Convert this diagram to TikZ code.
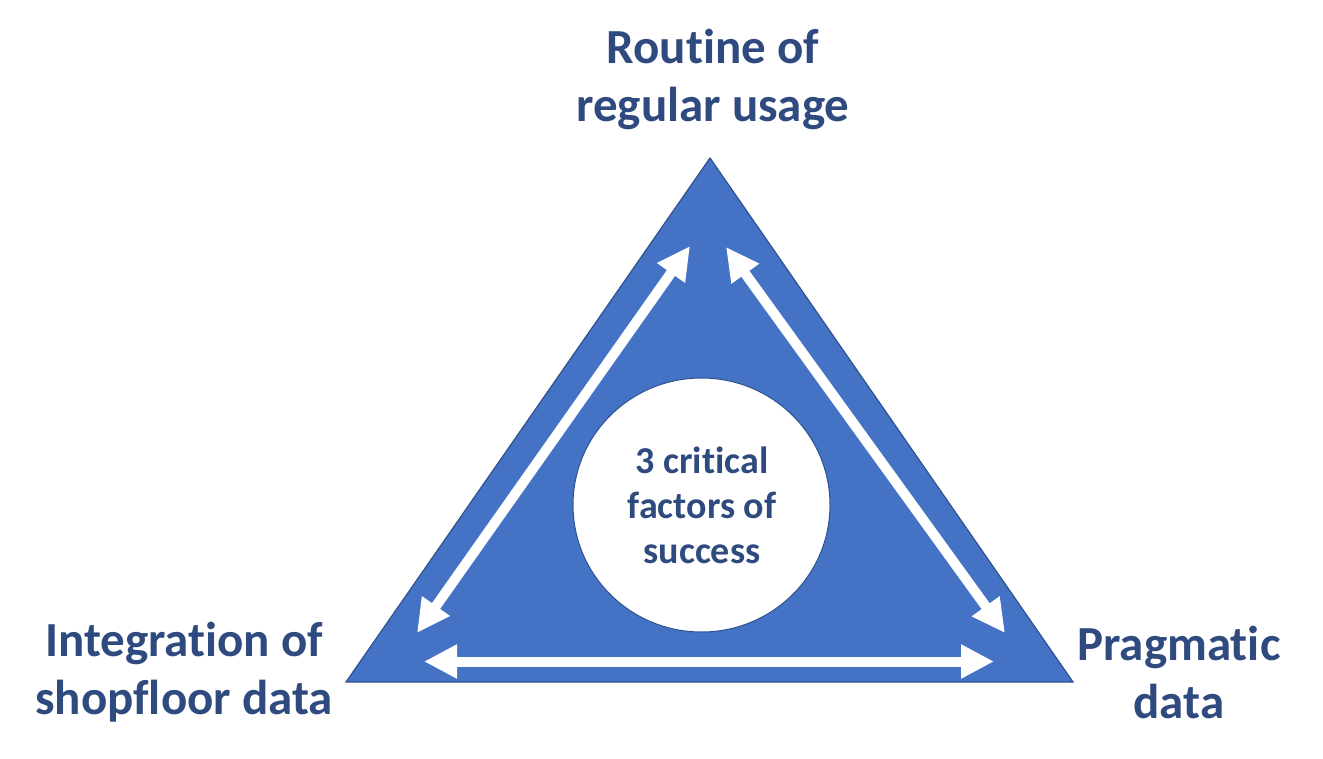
\documentclass[tikz,border=0pt]{standalone}
\usepackage{fontspec}
\setmainfont{Carlito}[Ligatures=NoCommon]
\usetikzlibrary{arrows.meta,shapes.geometric}
\definecolor{triblue}{HTML}{4472C4}
\definecolor{triedge}{HTML}{2F528F}
\definecolor{txtblue}{HTML}{2F4A7E}
\tikzset{
  lbl/.style={text=txtblue,font=\bfseries\fontsize{49}{58}\selectfont,align=center,inner sep=0pt},
  ctr/.style={text=txtblue,font=\bfseries\fontsize{38}{45}\selectfont,align=center,inner sep=0pt},
  dbl/.style={draw=white,line width=10pt,{Triangle[width=32pt,length=33pt]}-{Triangle[width=32pt,length=33pt]}},
}
\begin{document}
\begin{tikzpicture}[x=1pt,y=-1pt]
\useasboundingbox (0,0) rectangle (1323,759);
\coordinate (A) at (710,158);
\coordinate (B) at (346,682);
\coordinate (C) at (1073,682);
\draw[fill=triblue,draw=triedge,line width=1.2pt,line join=miter] (A) -- (B) -- (C) -- cycle;
\node[ellipse,fill=white,draw=triedge,line width=1pt,minimum width=257pt,minimum height=254pt,inner sep=0pt] (circ) at (701.5,505) {};
\node[ctr] (ctxt) at (702,505) {3 critical\\factors of\\success};
\coordinate (l1) at (690,246);
\coordinate (l2) at (417,633);
\coordinate (r1) at (726,247);
\coordinate (r2) at (1005,633);
\coordinate (b1) at (424,661.5);
\coordinate (b2) at (994,661.5);
\draw[dbl] (l2) -- (l1);
\draw[dbl] (r1) -- (r2);
\draw[dbl] (b1) -- (b2);
\node[lbl] (top) at (713,79) {Routine of\\regular usage};
\node[lbl] (left) at (184,672) {Integration of\\shopfloor data};
\node[lbl] (right) at (1179,672) {Pragmatic\\data};
\end{tikzpicture}
\end{document}
